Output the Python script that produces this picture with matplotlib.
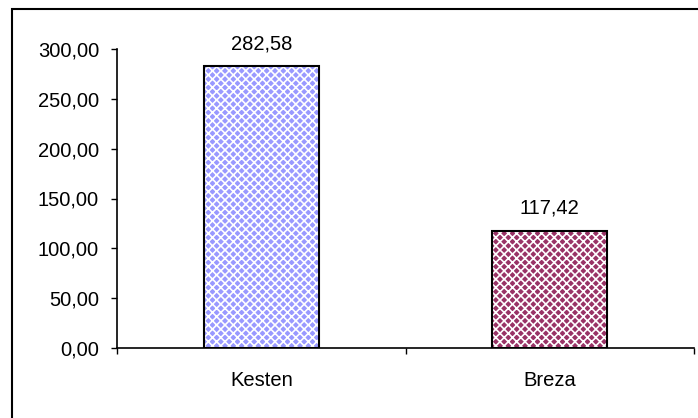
import matplotlib
matplotlib.use("Agg")
import matplotlib.pyplot as plt
from matplotlib.patches import Rectangle

categories = ["Kesten", "Breza"]
values = [282.58, 117.42]
bar_colors = ["#9999FF", "#993366"]
y_ticks = [0, 50, 100, 150, 200, 250, 300]

plt.rcParams["font.family"] = ["Liberation Sans", "DejaVu Sans"]
plt.rcParams["hatch.linewidth"] = 1.2

FS = 14.5
W, H = 698, 418
fig = plt.figure(figsize=(W / 100, H / 100), dpi=100)
ax = fig.add_axes([117 / W, 1 - 348 / H, (694 - 117) / W, (348 - 49) / H])

x = list(range(len(categories)))
# patterned fill: white hatch over the series colour
ax.bar(x, values, width=0.4, color=bar_colors, edgecolor="white",
       hatch="xxxx", linewidth=0, zorder=2)
# black outline on top
ax.bar(x, values, width=0.4, facecolor="none", edgecolor="black",
       linewidth=1.5, zorder=3)

def fmt(v):
    return f"{v:.2f}".replace(".", ",")

for xi, v in zip(x, values):
    ax.annotate(fmt(v), (xi, v), xytext=(0, 12.5), textcoords="offset points",
                ha="center", va="baseline", fontsize=FS)

ax.set_xlim(-0.5, len(categories) - 0.5)
ax.set_ylim(0, 300)
ax.set_yticks(y_ticks)
ax.set_yticklabels([fmt(t) for t in y_ticks], fontsize=FS)

ax.set_xticks([i - 0.5 for i in range(len(categories) + 1)])
ax.set_xticklabels([])
ax.set_xticks(x, minor=True)
ax.set_xticklabels(categories, minor=True, fontsize=FS)
ax.tick_params(axis="x", which="minor", length=0, pad=16.5)
ax.tick_params(axis="x", which="major", length=4.3, width=1, direction="out")
ax.tick_params(axis="y", length=4.3, width=1, direction="out", pad=8.6)

for s in ["top", "right"]:
    ax.spines[s].set_visible(False)
for s in ["left", "bottom"]:
    ax.spines[s].set_linewidth(1.2)

# chart area frame
fig.patches.append(Rectangle((12 / W, -0.1), 1.1, 1 - 9 / H + 0.1,
                             transform=fig.transFigure, fill=False,
                             edgecolor="black", linewidth=1.5))

fig.savefig("out.png", dpi=100)
